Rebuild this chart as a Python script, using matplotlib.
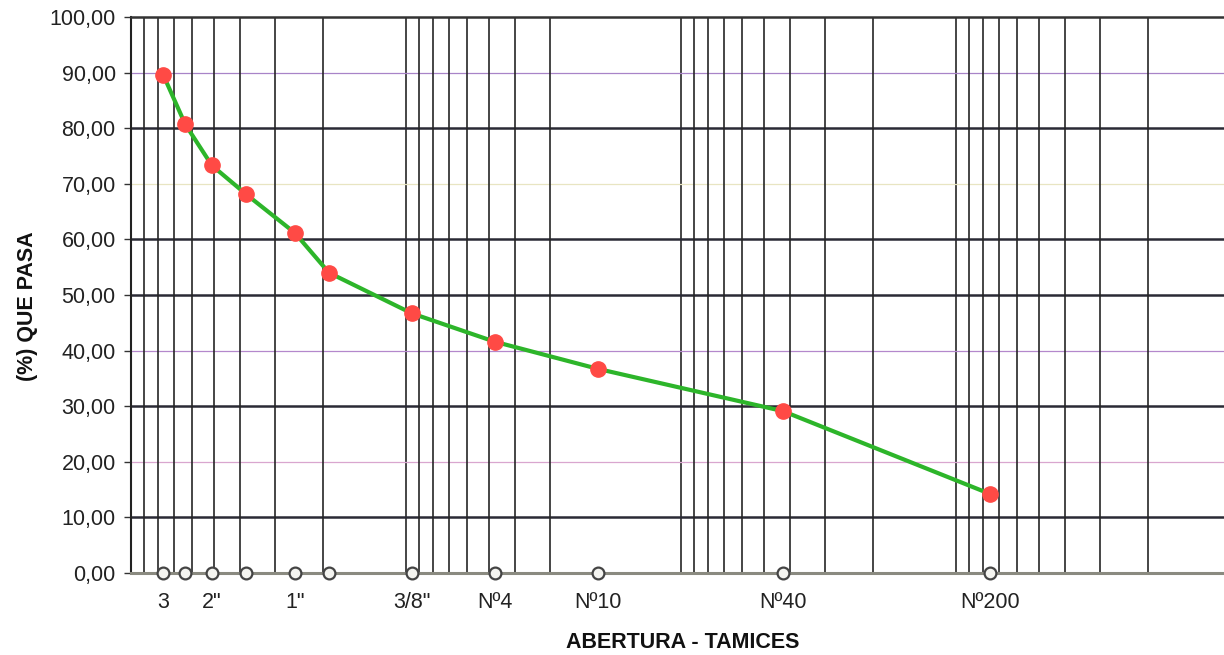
import matplotlib.pyplot as plt
from matplotlib.ticker import LogLocator, NullFormatter, FixedLocator, FixedFormatter

plt.rcParams['font.family'] = ['Liberation Sans', 'DejaVu Sans']

# Curva granulometrica
aberturas = [76.2, 63.5, 50.8, 38.1, 25.4, 19.05, 9.525, 4.76, 2.0, 0.425, 0.075]  # mm
pasa = [89.5, 80.7, 73.3, 68.1, 61.2, 54.0, 46.7, 41.6, 36.7, 29.1, 14.2]  # %

tamiz_pos = [76.2, 50.8, 25.4, 9.525, 4.76, 2.0, 0.425, 0.075]
tamiz_txt = ['3', '2"', '1"', '3/8"', 'Nº4', 'Nº10', 'Nº40', 'Nº200']

y_niveles = [10, 20, 30, 40, 50, 60, 70, 80, 90]
y_colores = ['#2a2a35', '#d9a6cf', '#2a2a35', '#b488cc', '#2a2a35',
             '#2a2a35', '#e8e5c2', '#2a2a35', '#a884c8']

fig = plt.figure(figsize=(12.24, 6.55), dpi=100)
ax = fig.add_axes([131 / 1224, 1 - 573 / 655, 1100 / 1224, 556 / 655])

ax.set_xscale('log')
ax.set_xlim(100, 0.01)
ax.set_ylim(0, 100)

# rejilla logaritmica vertical
ax.xaxis.set_minor_locator(LogLocator(base=10, subs=range(2, 10)))
ax.grid(True, which='minor', axis='x', color='#262626', linewidth=1.2, zorder=1)
for v in [100, 10, 1, 0.1, 0.01]:
    ax.axvline(v, color='#262626', linewidth=1.2, zorder=1)

# lineas horizontales
for y, c in zip(y_niveles, y_colores):
    lw = 1.8 if c == '#2a2a35' else 0.9
    ax.axhline(y, color=c, linewidth=lw, zorder=1)

ax.plot(aberturas, pasa, color='#2db52a', linewidth=3, zorder=3)
ax.plot(aberturas, pasa, linestyle='none', marker='o', markersize=11,
        color='#ff4a45', zorder=4)
ax.plot(aberturas, [0] * len(aberturas), linestyle='none', marker='o',
        markersize=8.5, markerfacecolor='#f4f4f0', markeredgecolor='#444444',
        markeredgewidth=1.6, clip_on=False, zorder=5)

# ejes
ax.xaxis.set_major_locator(FixedLocator(tamiz_pos))
ax.xaxis.set_major_formatter(FixedFormatter(tamiz_txt))
ax.xaxis.set_minor_formatter(NullFormatter())
ax.tick_params(axis='x', which='both', length=0, pad=14, labelsize=15.5,
               labelcolor='#222222')
ax.set_yticks(range(0, 101, 10))
ax.set_yticklabels([f'{v:.2f}'.replace('.', ',') for v in range(0, 101, 10)])
ax.tick_params(axis='y', length=5, width=1, color='#333333', labelsize=15.5,
               labelcolor='#222222', pad=6)

ax.spines['bottom'].set_color('#8a8a80')
ax.spines['bottom'].set_linewidth(2.2)
ax.spines['top'].set_color('#333333')
ax.spines['top'].set_linewidth(1.8)
ax.spines['left'].set_color('#222222')
ax.spines['left'].set_linewidth(1.5)
ax.spines['right'].set_visible(False)

ax.set_xlabel('ABERTURA - TAMICES', fontsize=15.5, fontweight='bold',
              color='#111111')
ax.set_ylabel('(%) QUE PASA', fontsize=15.5, fontweight='bold', color='#111111')
ax.yaxis.set_label_coords(-0.085, 0.48)
ax.xaxis.set_label_coords(552 / 1100, -0.107)

fig.savefig('out.png', dpi=100)
